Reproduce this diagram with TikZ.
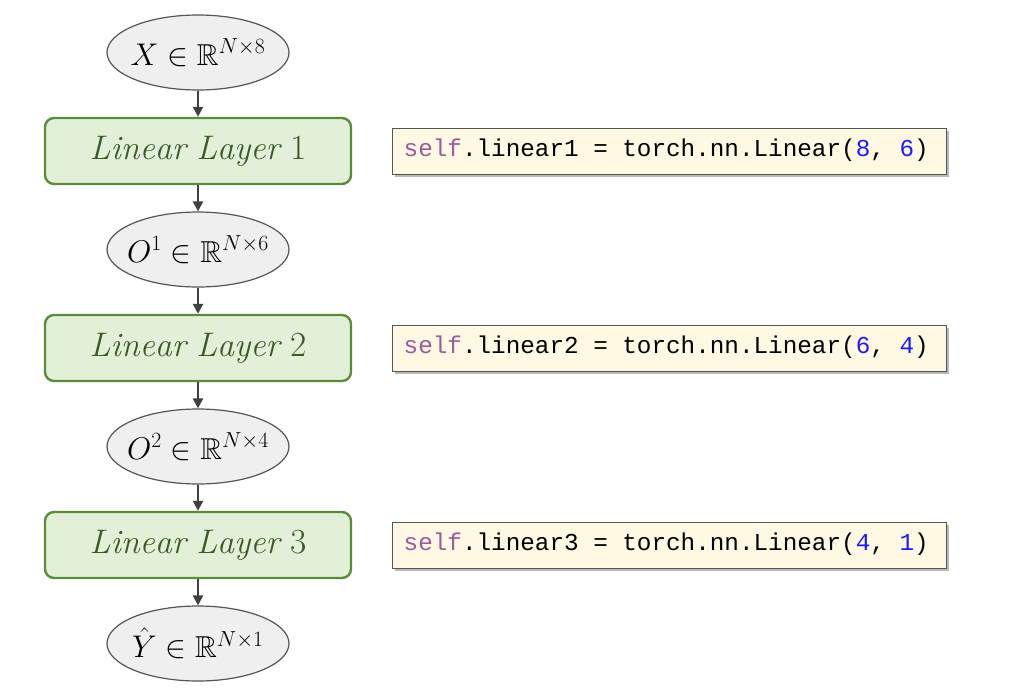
\documentclass[tikz,border=0pt]{standalone}
\usepackage{fontspec}
\usepackage{amsmath,amssymb}
\usepackage{graphicx}
\newfontfamily\codefont{Liberation Mono}
\usetikzlibrary{arrows.meta,shapes.geometric,shadows}
\definecolor{ellfill}{HTML}{EFEFEF}
\definecolor{ellline}{HTML}{555555}
\definecolor{boxfill}{HTML}{E2EFD9}
\definecolor{boxline}{HTML}{5B8C3A}
\definecolor{boxtext}{HTML}{3B5A26}
\definecolor{codefill}{HTML}{FFF8E3}
\definecolor{codeline}{HTML}{555555}
\definecolor{selfcol}{HTML}{9A5CA0}
\definecolor{numcol}{HTML}{1A1AFF}
\definecolor{arrowcol}{HTML}{404040}
\tikzset{
  tensor/.style={ellipse, draw=ellline, fill=ellfill, line width=1.2pt,
    minimum width=182pt, minimum height=75pt, inner sep=0pt,
    font=\fontsize{24}{28}\selectfont},
  layerbox/.style={rectangle, rounded corners=9pt, draw=boxline, fill=boxfill,
    line width=2.4pt, minimum width=306pt, minimum height=66pt, inner sep=0pt,
    text=boxtext, font=\fontsize{24}{28}\selectfont},
  codebox/.style={rectangle, draw=codeline, fill=codefill, line width=1pt,
    minimum width=554pt, minimum height=46pt, inner sep=0pt,
    drop shadow={shadow xshift=3pt, shadow yshift=-3pt, fill=black!45, opacity=0.6}},
  codetext/.style={anchor=west, inner sep=0pt, font=\codefont\fontsize{24.3}{28}\selectfont},
  flow/.style={draw=arrowcol, line width=2.4pt, -{Triangle[length=10pt,width=10pt]}}
}
\newcommand{\selfkw}{\textcolor{selfcol}{self}}
\newcommand{\numv}[1]{\textcolor{numcol}{#1}}
\newcommand{\tens}[1]{\makebox[0pt]{\scalebox{1.26}{$#1$}}}
\newcommand{\layer}[1]{\scalebox{1.42}{$\mathit{Linear\ Layer}\ #1$}}
\begin{document}
\begin{tikzpicture}[x=1pt,y=-1pt]
\useasboundingbox (0,0) rectangle (1028,689);
\node[tensor] (x) at (198,52.5) {\tens{X \in \mathbb{R}^{N\times 8}}};
\node[layerbox] (l1) at (198,151) {\layer{1}};
\node[tensor] (o1) at (198,249.5) {\tens{O^1 \in \mathbb{R}^{N\times 6}}};
\node[layerbox] (l2) at (198,348) {\layer{2}};
\node[tensor] (o2) at (198,446.5) {\tens{O^2 \in \mathbb{R}^{N\times 4}}};
\node[layerbox] (l3) at (198,545) {\layer{3}};
\node[tensor] (y) at (198,643.5) {\tens{\hat{Y} \in \mathbb{R}^{N\times 1}}};

\node[codebox] (c1) at (669,151) {};
\node[codebox] (c2) at (669,348) {};
\node[codebox] (c3) at (669,545) {};
\node[codetext] (t1) at ([xshift=12pt,yshift=1pt]c1.west) {\selfkw.linear1 = torch.nn.Linear(\numv{8}, \numv{6})};
\node[codetext] (t2) at ([xshift=12pt,yshift=1pt]c2.west) {\selfkw.linear2 = torch.nn.Linear(\numv{6}, \numv{4})};
\node[codetext] (t3) at ([xshift=12pt,yshift=1pt]c3.west) {\selfkw.linear3 = torch.nn.Linear(\numv{4}, \numv{1})};

\draw[flow] (x) -- (l1);
\draw[flow] (l1) -- (o1);
\draw[flow] (o1) -- (l2);
\draw[flow] (l2) -- (o2);
\draw[flow] (o2) -- (l3);
\draw[flow] (l3) -- (y);
\end{tikzpicture}
\end{document}
